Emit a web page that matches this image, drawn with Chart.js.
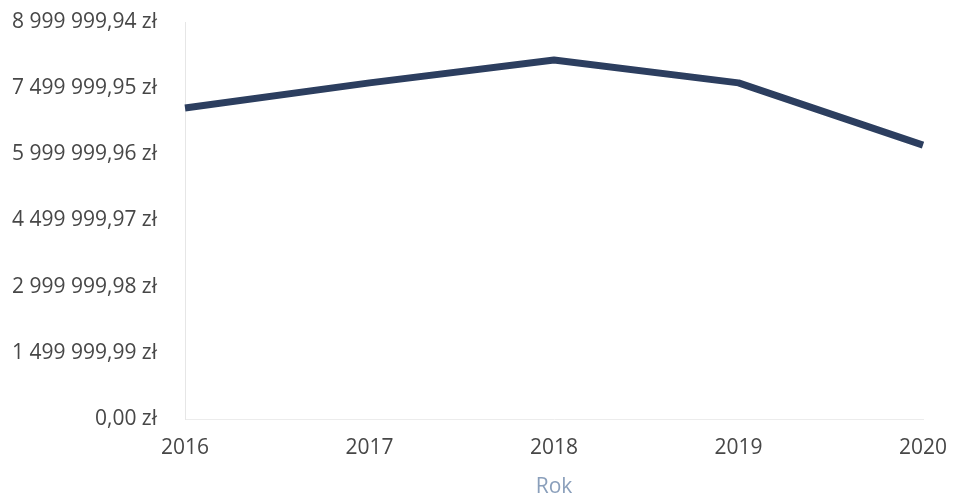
<!DOCTYPE html>
<html>
<head>
<meta charset="utf-8">
<script src="https://cdn.jsdelivr.net/npm/chart.js@4/dist/chart.umd.min.js"></script>
<style>
html,body{margin:0;padding:0;background:#fff;}
#wrap{width:953px;height:501px;}
</style>
</head>
<body>
<div id="wrap"><canvas id="c" width="953" height="501"></canvas></div>
<script>
const years = ['2016','2017','2018','2019','2020'];
const values = [7050000, 7620000, 8140000, 7620000, 6210000];
const yTickValues = [0, 1499999.99, 2999999.98, 4499999.97, 5999999.96, 7499999.95, 8999999.94];
const yTickLabels = ['0,00 zł','1 499 999,99 zł','2 999 999,98 zł','4 499 999,97 zł','5 999 999,96 zł','7 499 999,95 zł','8 999 999,94 zł'];
const xTitle = 'Rok';

const FONT = "'Open Sans', 'Noto Sans', sans-serif";

new Chart(document.getElementById('c'), {
  type: 'line',
  data: {
    labels: years,
    datasets: [{
      data: values,
      borderColor: '#2c3e5f',
      borderWidth: 7,
      pointRadius: 0,
      pointHoverRadius: 0,
      tension: 0,
      fill: false,
      borderJoinStyle: 'round'
    }]
  },
  options: {
    responsive: false,
    animation: false,
    events: [],
    layout: { padding: { top: 22, right: 30, left: 0, bottom: 0 } },
    plugins: { legend: { display: false }, tooltip: { enabled: false } },
    scales: {
      x: {
        offset: false,
        grid: { display: false, drawTicks: false },
        border: { display: true, color: '#ececec', width: 1 },
        ticks: { color: '#474747', font: { family: FONT, size: 21 }, padding: 16, maxRotation: 0, autoSkip: false },
        title: { display: true, text: xTitle, color: '#8a9fbb', font: { family: FONT, size: 21 }, padding: { top: 8, bottom: 1 } },
        afterFit: (s) => { s.height = 82; s.paddingLeft = 0; s.paddingRight = 0; }
      },
      y: {
        min: 0,
        max: yTickValues[yTickValues.length - 1],
        grid: { display: false, drawTicks: false },
        border: { display: true, color: '#e6e6e6', width: 1 },
        afterBuildTicks: (s) => { s.ticks = yTickValues.map(v => ({ value: v })); },
        ticks: {
          color: '#474747',
          font: { family: FONT, size: 21 },
          padding: 28,
          callback: (v, i) => yTickLabels[i]
        },
        afterFit: (s) => { s.width = 185; s.paddingTop = 0; s.paddingBottom = 0; }
      }
    }
  }
});
</script>
</body>
</html>
